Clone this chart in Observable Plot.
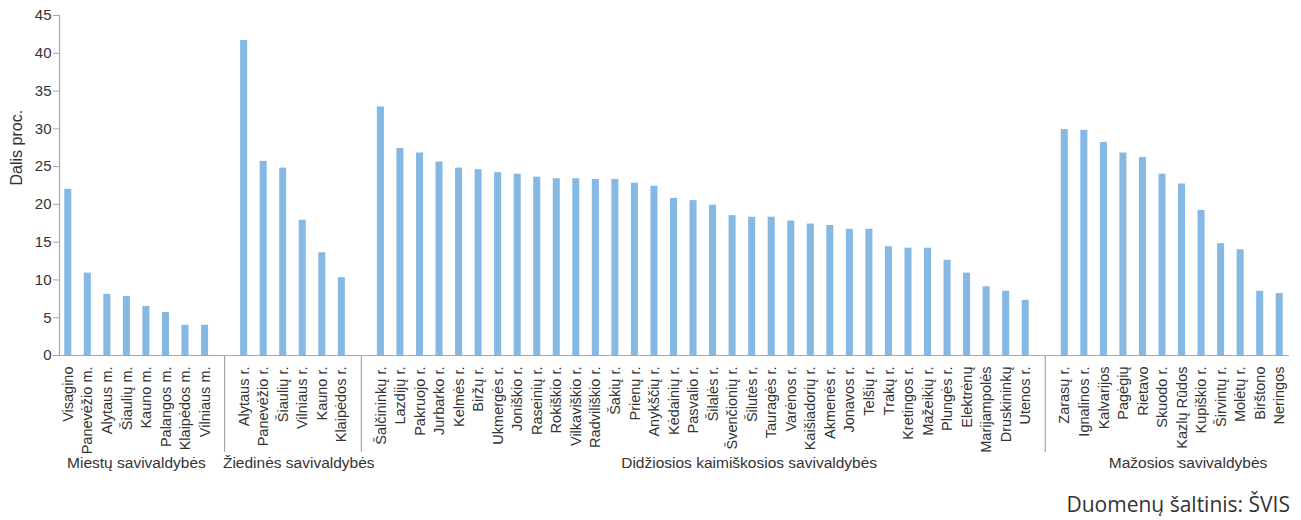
<!DOCTYPE html>
<html>
<head>
<meta charset="utf-8">
<script src="https://cdn.jsdelivr.net/npm/d3@7"></script>
<script src="https://cdn.jsdelivr.net/npm/@observablehq/plot@0.6"></script>
<style>
  body { margin: 0; background: #ffffff; }
  #chart { width: 1301px; }
  #caption {
    width: 1290px; text-align: right; font-family: "Open Sans", sans-serif;
    font-size: 21px; color: #333333; margin-top: 7px; line-height: 24px;
  }
</style>
</head>
<body>
<div id="chart"></div>
<div id="caption">Duomenų šaltinis: ŠVIS</div>
<script>
// ---- data ----
const groupNames = [
  "Miestų savivaldybės",
  "Žiedinės savivaldybės",
  "Didžiosios kaimiškosios savivaldybės",
  "Mažosios savivaldybės"
];

const miestuCategories = ["Visagino", "Panevėžio m.", "Alytaus m.", "Šiaulių m.", "Kauno m.", "Palangos m.", "Klaipėdos m.", "Vilniaus m."];
const miestuValues = [22.0, 10.9, 8.1, 7.8, 6.5, 5.7, 4.0, 4.0];

const ziediniuCategories = ["Alytaus r.", "Panevėžio r.", "Šiaulių r.", "Vilniaus r.", "Kauno r.", "Klaipėdos r."];
const ziediniuValues = [41.7, 25.7, 24.8, 17.9, 13.6, 10.3];

const didziujuCategories = ["Šalčininkų r.", "Lazdijų r.", "Pakruojo r.", "Jurbarko r.", "Kelmės r.", "Biržų r.", "Ukmergės r.", "Joniškio r.", "Raseinių r.", "Rokiškio r.", "Vilkaviškio r.", "Radviliškio r.", "Šakių r.", "Prienų r.", "Anykščių r.", "Kėdainių r.", "Pasvalio r.", "Šilalės r.", "Švenčionių r.", "Šilutės r.", "Tauragės r.", "Varėnos r.", "Kaišiadorių r.", "Akmenės r.", "Jonavos r.", "Telšių r.", "Trakų r.", "Kretingos r.", "Mažeikių r.", "Plungės r.", "Elektrėnų", "Marijampolės", "Druskininkų", "Utenos r."];
const didziujuValues = [32.9, 27.4, 26.8, 25.6, 24.8, 24.6, 24.2, 24.0, 23.6, 23.4, 23.4, 23.3, 23.3, 22.8, 22.4, 20.8, 20.5, 19.9, 18.5, 18.3, 18.3, 17.8, 17.4, 17.2, 16.7, 16.7, 14.4, 14.2, 14.2, 12.6, 10.9, 9.1, 8.5, 7.3];

const mazujuCategories = ["Zarasų r.", "Ignalinos r.", "Kalvarijos", "Pagėgių", "Rietavo", "Skuodo r.", "Kazlų Rūdos", "Kupiškio r.", "Širvintų r.", "Molėtų r.", "Birštono", "Neringos"];
const mazujuValues = [29.9, 29.8, 28.2, 26.8, 26.2, 24.0, 22.7, 19.2, 14.8, 14.0, 8.5, 8.2];

const gapKeys = ["gap1", "gap2", "gap3"];
const yTicks = [0, 5, 10, 15, 20, 25, 30, 35, 40, 45];
const yLabel = "Dalis proc.";

// ---- build table ----
const groupCats = [miestuCategories, ziediniuCategories, didziujuCategories, mazujuCategories];
const groupVals = [miestuValues, ziediniuValues, didziujuValues, mazujuValues];
const domain = [];
const rows = [];
groupCats.forEach((cats, gi) => {
  cats.forEach((c, i) => {
    domain.push(c);
    rows.push({name: c, value: groupVals[gi][i], group: groupNames[gi]});
  });
  if (gi < gapKeys.length) domain.push(gapKeys[gi]);
});

const regular = '"Liberation Sans", Arial, sans-serif';
const axisGrey = "#a6a6a6";
const textCol = "#333333";

const groupLabel = (name, anchorCat, dx) =>
  Plot.text([name], {
    x: () => anchorCat, frameAnchor: "bottom", dy: 112, dx,
    fontFamily: regular, fontSize: 15.5, fill: textCol
  });

const chart = Plot.plot({
  width: 1301,
  height: 485,
  marginLeft: 58,
  marginRight: 12,
  marginTop: 15,
  marginBottom: 130,
  x: {domain, paddingInner: 0.64, paddingOuter: 0.32, axis: null},
  y: {domain: [0, 45], axis: null},
  style: {background: "#ffffff"},
  marks: [
    Plot.barY(rows, {x: "name", y: "value", fill: "#86b8e4"}),
    Plot.ruleY([0], {stroke: axisGrey, strokeWidth: 1.2}),
    Plot.frame({anchor: "left", stroke: axisGrey, strokeWidth: 1.2, dx: 1}),
    Plot.axisY({ticks: yTicks, text: null, tickSize: 6, stroke: axisGrey, dx: 1, label: null}),
    Plot.axisY({ticks: yTicks, tickSize: 0, tickPadding: 7, fontSize: 15, fontFamily: regular, fill: textCol, label: null}),
    Plot.text([yLabel], {frameAnchor: "left", dx: -42, rotate: -90, fontSize: 16, fontFamily: regular, fill: textCol}),
    Plot.axisX({
      tickSize: 0, tickPadding: 11, tickRotate: -90, fontSize: 14.5, fontFamily: regular, fill: textCol,
      tickFormat: d => gapKeys.includes(d) ? "" : d, label: null
    }),
    Plot.ruleX(gapKeys, {stroke: axisGrey, strokeWidth: 1.2, insetTop: 340, insetBottom: -97}),
    groupLabel(groupNames[0], "Kauno m.", -10),
    groupLabel(groupNames[1], "Vilniaus r.", -4),
    groupLabel(groupNames[2], "Šilutės r.", -3),
    groupLabel(groupNames[3], "Kazlų Rūdos", 6)
  ]
});
document.getElementById("chart").append(chart);
</script>
</body>
</html>
